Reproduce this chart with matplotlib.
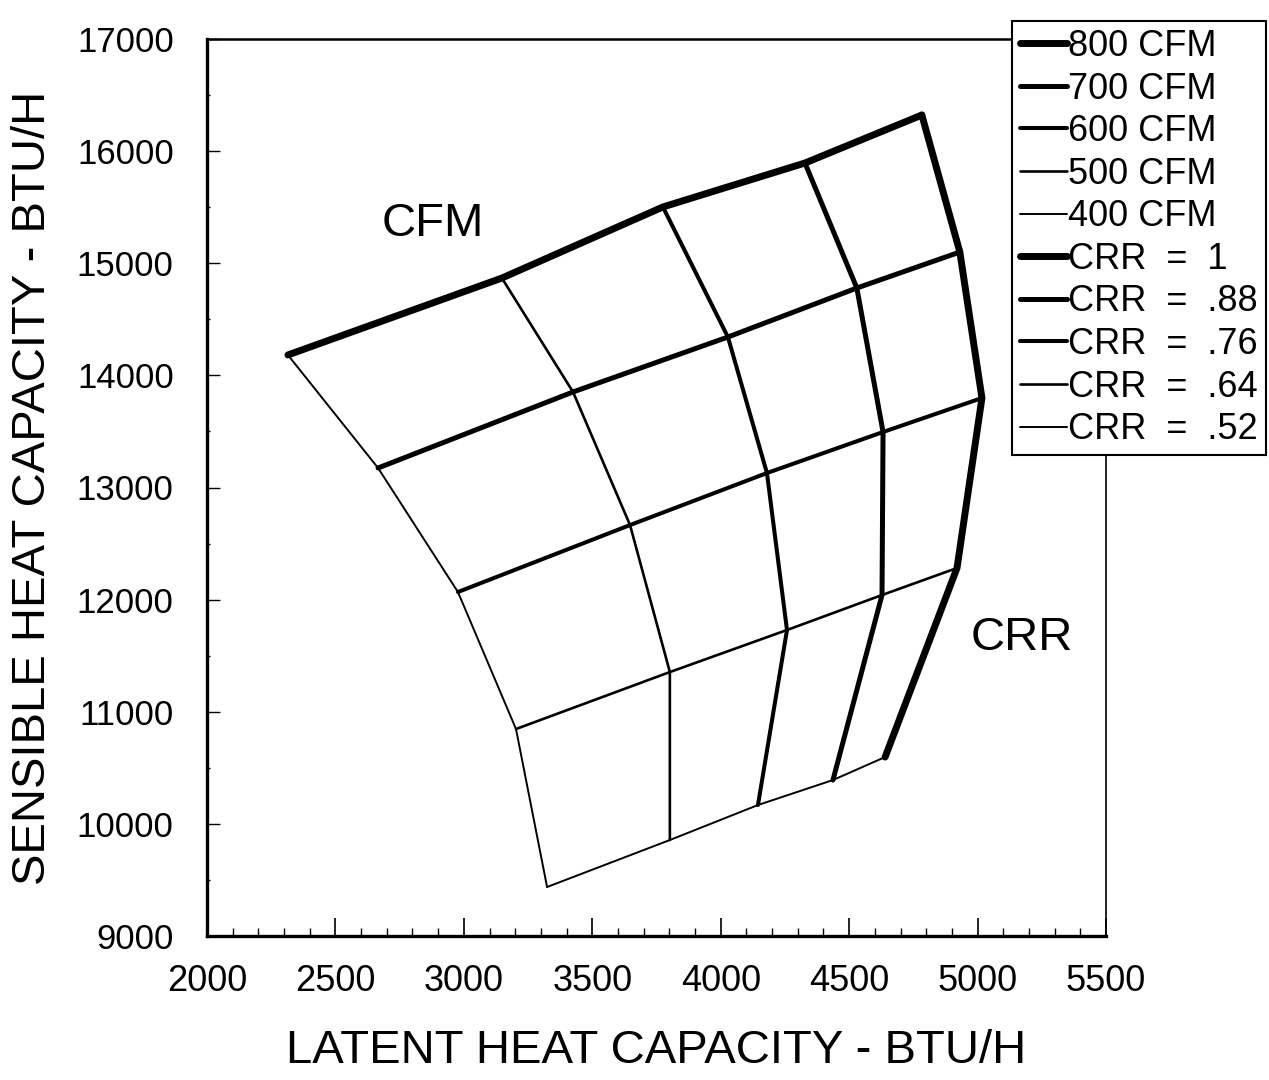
import matplotlib
matplotlib.use('Agg')
import matplotlib.pyplot as plt
from matplotlib.ticker import MultipleLocator

plt.rcParams['font.family'] = ['Liberation Sans', 'DejaVu Sans']

# Carpet plot grid: rows are airflow (CFM), columns are CRR from .52 up to 1
cfm = [800, 700, 600, 500, 400]
crr = [0.52, 0.64, 0.76, 0.88, 1]
crr_labels = ['.52', '.64', '.76', '.88', '1']

latent = [
    [2315, 3148, 3775, 4328, 4783],   # 800 CFM
    [2666, 3425, 4028, 4530, 4931],   # 700 CFM
    [2977, 3647, 4180, 4632, 5017],   # 600 CFM
    [3203, 3802, 4258, 4628, 4920],   # 500 CFM
    [3324, 3802, 4145, 4437, 4640],   # 400 CFM
]
sensible = [
    [14182, 14868, 15502, 15894, 16322],
    [13174, 13852, 14342, 14779, 15100],
    [12068, 12665, 13129, 13495, 13798],
    [10846, 11354, 11729, 12041, 12282],
    [9437, 9856, 10168, 10391, 10596],
]

# heavier pens for higher CFM and higher CRR
cfm_width = [5.0, 3.6, 2.9, 1.9, 1.4]
crr_width = [1.4, 1.9, 2.9, 3.6, 5.0]

fig = plt.figure(figsize=(12.69, 10.8), dpi=100)
ax = fig.add_axes([207 / 1269, 1 - 936 / 1080, 899 / 1269, 897 / 1080])

for i, c in enumerate(cfm):
    ax.plot(latent[i], sensible[i], color='black', lw=cfm_width[i],
            solid_joinstyle='round', solid_capstyle='round', label=f'{c} CFM')

for j in reversed(range(len(crr))):
    xs = [row[j] for row in latent]
    ys = [row[j] for row in sensible]
    ax.plot(xs, ys, color='black', lw=crr_width[j],
            solid_joinstyle='round', solid_capstyle='round',
            label=f'CRR  =  {crr_labels[j]}')

ax.set_xlim(2000, 5500)
ax.set_ylim(9000, 17000)

ax.xaxis.set_major_locator(MultipleLocator(500))
ax.xaxis.set_minor_locator(MultipleLocator(100))
ax.yaxis.set_major_locator(MultipleLocator(1000))
ax.yaxis.set_minor_locator(MultipleLocator(500))

ax.tick_params(axis='x', which='major', direction='in', length=13, width=1.2,
               pad=20, labelsize=26)
ax.tick_params(axis='x', which='minor', direction='in', length=5.5, width=1.0)
ax.tick_params(axis='y', which='major', direction='in', length=9, width=1.0,
               pad=24, labelsize=25)
ax.tick_params(axis='y', which='minor', direction='in', length=2.5, width=1.0)

ax.spines['left'].set_linewidth(2.4)
ax.spines['bottom'].set_linewidth(2.4)
ax.spines['top'].set_linewidth(1.8)
ax.spines['right'].set_linewidth(1.2)

ax.set_xlabel('LATENT HEAT CAPACITY - BTU/H', fontsize=34)
ax.set_ylabel('SENSIBLE HEAT CAPACITY - BTU/H', fontsize=34)
ax.xaxis.label.set_va('center')
ax.yaxis.label.set_va('center')
ax.xaxis.set_label_coords(0.5, -0.128)
ax.yaxis.set_label_coords(-0.194, 0.5)

ax.text(2880, 15350, 'CFM', fontsize=34, ha='center', va='center')
ax.text(5173, 11658, 'CRR', fontsize=34, ha='center', va='center')

leg = ax.legend(loc='upper right', bbox_to_anchor=(1266 / 1269, 1 - 21 / 1080),
                bbox_transform=fig.transFigure, fontsize=26, frameon=True,
                fancybox=False, framealpha=1, edgecolor='black',
                handlelength=1.3, handletextpad=0.05, labelspacing=0.21,
                borderpad=0.22, borderaxespad=0)
leg.get_frame().set_linewidth(1.5)

fig.savefig('out.png', dpi=100, facecolor='white')
